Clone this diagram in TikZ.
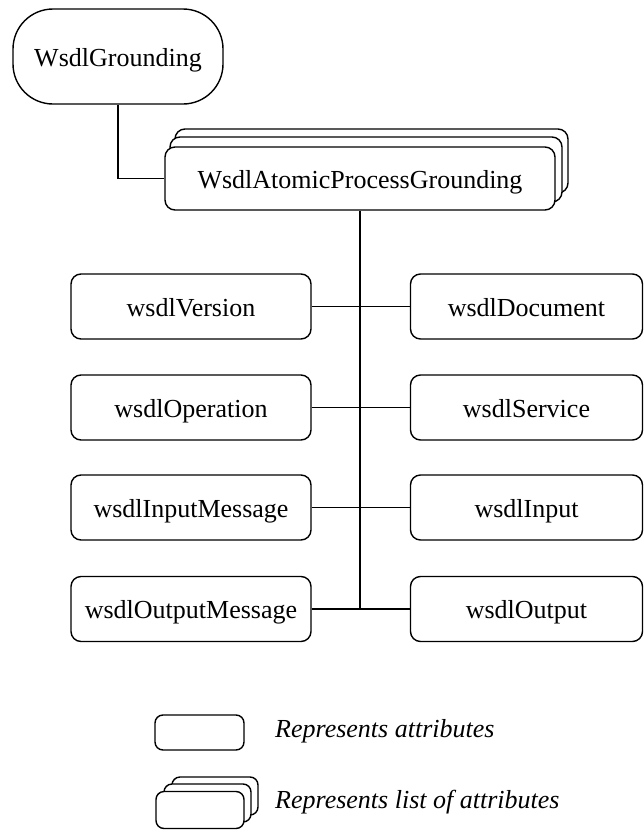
\documentclass[tikz,border=0pt]{standalone}
\usepackage{fontspec}
\setmainfont{Liberation Serif}
\begin{document}
\begin{tikzpicture}[x=1pt,y=-1pt,
  every node/.style={font=\fontsize{26}{30}\selectfont, inner sep=0pt},
  box/.style={draw, line width=1.4pt, fill=white, rounded corners=10pt, minimum height=65pt,
    text height=22pt, text depth=3pt},
  leftbox/.style={box, minimum width=240pt},
  rightbox/.style={box, minimum width=232pt},
  stackpart/.style={draw, line width=1.4pt, fill=white, rounded corners=10pt},
  link/.style={line width=1.6pt}]
\useasboundingbox (0,0) rectangle (644,830);

% root concept
\node[draw, line width=1.4pt, rounded corners=40pt, minimum width=210pt, minimum height=95pt,
  text height=22pt, text depth=3pt]
  (wg) at (118,56.5) {WsdlGrounding};

% list-valued grounding: two shadow cards behind the front card
\path (360,178.5) coordinate (apgc);
\draw[stackpart] (175,129) rectangle (568,193);
\draw[stackpart] (170,137) rectangle (562,202);
\node[box, minimum width=390pt, minimum height=63pt] (apg) at (apgc) {WsdlAtomicProcessGrounding};

% attributes
\node[leftbox]  (l1) at (191,306.5) {wsdlVersion};
\node[leftbox]  (l2) at (191,407.5) {wsdlOperation};
\node[leftbox]  (l3) at (191,507.5) {wsdlInputMessage};
\node[leftbox]  (l4) at (191,609)   {wsdlOutputMessage};
\node[rightbox] (r1) at (526.5,306.5) {wsdlDocument};
\node[rightbox] (r2) at (526.5,407.5) {wsdlService};
\node[rightbox] (r3) at (526.5,507.5) {wsdlInput};
\node[rightbox] (r4) at (526.5,609)   {wsdlOutput};

% connectors
\draw[link] (wg.south) |- (apg.west);
\draw[link] (apg.south) -- (apg.south |- r4.west);
\draw[link] (l1.east) -- (r1.west);
\draw[link] (l2.east) -- (r2.west);
\draw[link] (l3.east) -- (r3.west);
\draw[link] (l4.east) -- (r4.west);

% legend
\node[box, rounded corners=8pt, minimum width=89pt, minimum height=35pt] (legA) at (199.5,732.5) {};
\node[anchor=west, font=\fontsize{26}{30}\selectfont\itshape] (legAtext) at (275,731) {Represents attributes};

\draw[stackpart, rounded corners=8pt] (172,777) rectangle (258,815);
\draw[stackpart, rounded corners=8pt] (164,784) rectangle (251,822);
\node[box, rounded corners=8pt, minimum width=88pt, minimum height=37pt] (legB) at (200,810) {};
\node[anchor=west, font=\fontsize{26}{30}\selectfont\itshape] (legBtext) at (275,802) {Represents list of attributes};
\end{tikzpicture}
\end{document}
